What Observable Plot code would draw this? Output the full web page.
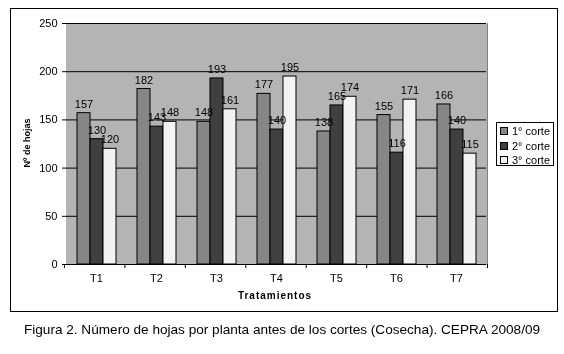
<!DOCTYPE html>
<html><head><meta charset="utf-8">
<script src="https://cdn.jsdelivr.net/npm/d3@7"></script>
<script src="https://cdn.jsdelivr.net/npm/@observablehq/plot@0.6"></script>
<style>
body{margin:0;background:#fff;font-family:"Liberation Sans",Arial,sans-serif;color:#000;}
#wrap{position:relative;width:564px;height:354px;overflow:hidden;filter:grayscale(100%);}
#box{position:absolute;left:10px;top:8px;width:546px;height:302px;border:1px solid #000;}
#chart svg{display:block;}
#legend{position:absolute;left:485px;top:113px;width:56px;height:42px;border:1px solid #000;font-size:11px;background:#fff;}
#legend .it{position:absolute;left:3px;height:14px;line-height:14px;white-space:nowrap;}
#legend .sw{display:inline-block;width:6px;height:6px;border:1px solid #000;margin-right:4px;vertical-align:0px;}
#ylab{position:absolute;left:16px;top:134px;transform:translate(-50%,-50%) rotate(-90deg);font-size:9px;font-weight:bold;white-space:nowrap;}
#xlab{position:absolute;left:264px;top:281px;transform:translateX(-50%);font-size:10px;font-weight:bold;letter-spacing:1px;white-space:nowrap;}
#caption{position:absolute;left:0;top:321px;width:564px;text-align:center;font-size:13.6px;line-height:18px;white-space:nowrap;}
</style>
</head><body>
<div id="wrap">
  <div id="box">
    <div id="chart"></div>
    <div id="ylab"></div>
    <div id="xlab"></div>
    <div id="legend"></div>
  </div>
  <div id="caption"></div>
</div>
<script>
const treatments = ["T1","T2","T3","T4","T5","T6","T7"];
const series = ["1° corte","2° corte","3° corte"];
const corte1 = [157,182,148,177,138,155,166];
const corte2 = [130,143,193,140,165,116,140];
const corte3 = [120,148,161,195,174,171,115];
const yTicks = [0,50,100,150,200,250];
const seriesColors = ["#868686","#404040","#f2f2f2"];
const yTitle = "Nº de hojas";
const xTitle = "Tratamientos";
const captionText = "Figura 2. Número de hojas por planta antes de los cortes (Cosecha). CEPRA 2008/09";

const values = [corte1, corte2, corte3];
const rows = treatments.flatMap((t, i) => series.map((s, j) => ({t, s, v: values[j][i]})));

const chart = Plot.plot({
  width: 546, height: 302,
  marginLeft: 53, marginTop: 14, marginBottom: 47, marginRight: 70,
  style: {fontFamily: "'Liberation Sans', Arial, sans-serif", fontSize: "11px", color: "#000", background: "transparent"},
  facet: {data: rows, x: "t"},
  fx: {domain: treatments, padding: 0, axis: "bottom", label: null, tickSize: 0, tickPadding: 10},
  x: {domain: series, axis: null, paddingInner: 0, paddingOuter: 0.742},
  y: {domain: [0, 250], ticks: yTicks, tickSize: 4, tickPadding: 5, label: null, line: true},
  color: {domain: series, range: seriesColors},
  marks: [
    Plot.frame({fill: "#b4b4b4", stroke: "none", insetLeft: -0.5, insetRight: -0.5, shapeRendering: "crispEdges"}),
    Plot.ruleY(yTicks, {stroke: "#000", strokeWidth: 1}),
    Plot.barY(rows, {x: "s", y: "v", fill: "s", stroke: "#000", strokeWidth: 1}),
    Plot.text(rows, {x: "s", y: "v", text: d => String(d.v), dy: -9, fontSize: 11, fill: "#000"})
  ]
});
document.getElementById("chart").appendChild(chart);

// category boundary ticks and right edge, from the scales
const fxs = chart.scale("fx");
const ys = chart.scale("y");
const band = d3.scaleBand().domain(fxs.domain).range(fxs.range)
  .paddingInner(fxs.paddingInner || 0).paddingOuter(fxs.paddingOuter || 0);
const y0 = Math.max(...ys.range), yTop = Math.min(...ys.range);
const svg = d3.select(chart.tagName.toLowerCase() === "svg" ? chart : chart.querySelector("svg"));
const bounds = treatments.map(t => band(t)).concat([band(treatments[treatments.length-1]) + band.bandwidth()]);
const g = svg.append("g");
g.append("line").attr("x1", bounds[bounds.length-1] + 0.5).attr("x2", bounds[bounds.length-1] + 0.5)
  .attr("y1", yTop).attr("y2", y0).attr("stroke", "#808080");
g.selectAll("line.bt").data(bounds).join("line").attr("class","bt")
  .attr("x1", d => d + 0.5).attr("x2", d => d + 0.5).attr("y1", y0).attr("y2", y0 + 4).attr("stroke", "#000");

document.getElementById("ylab").textContent = yTitle;
document.getElementById("xlab").textContent = xTitle;
document.getElementById("caption").textContent = captionText;
const leg = document.getElementById("legend");
series.forEach((s, i) => {
  const d = document.createElement("div");
  d.className = "it";
  d.style.top = (1 + i * 14.5) + "px";
  d.innerHTML = `<span class="sw" style="background:${seriesColors[i]}"></span>${s}`;
  leg.appendChild(d);
});
</script>
</body></html>
